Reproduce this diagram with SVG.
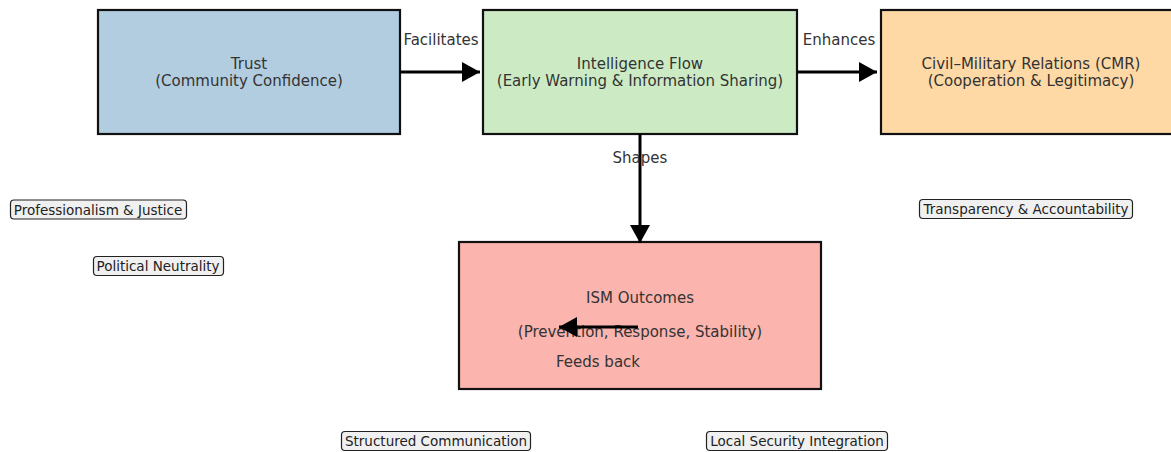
<svg xmlns="http://www.w3.org/2000/svg" width="1171" height="452" viewBox="0 0 1171 452">
<style>
.box{stroke:#111;stroke-width:2.2}
.t{font-family:"DejaVu Sans",sans-serif;font-size:15px;fill:#333;text-anchor:middle}
.lbl{font-family:"DejaVu Sans",sans-serif;font-size:15px;fill:#333;text-anchor:middle}
.tag rect{fill:#f0f0f0;stroke:#222;stroke-width:1.2}
.tag text{font-family:"DejaVu Sans",sans-serif;font-size:13.5px;fill:#222;text-anchor:middle}
.c{stroke:#000;stroke-width:3;fill:none}
</style>
<defs>
<marker id="ah" viewBox="0 0 18 20" refX="18" refY="10" markerWidth="18" markerHeight="20" markerUnits="userSpaceOnUse" orient="auto">
<path d="M0,0 L18,10 L0,20 Z" fill="#000"/>
</marker>
</defs>
<rect width="1171" height="452" fill="#fff"/>
<g id="trust">
<rect class="box" x="98" y="10" width="302" height="124" fill="#b3cde0"/>
<text class="t" x="249" y="69">Trust</text>
<text class="t" x="249" y="86">(Community Confidence)</text>
</g>
<g id="intel">
<rect class="box" x="483" y="10" width="314" height="124" fill="#ccebc5"/>
<text class="t" x="640" y="69">Intelligence Flow</text>
<text class="t" x="640" y="86">(Early Warning &amp; Information Sharing)</text>
</g>
<g id="cmr">
<rect class="box" x="881" y="10" width="300" height="124" fill="#fed9a6"/>
<text class="t" x="1031" y="69">Civil–Military Relations (CMR)</text>
<text class="t" x="1031" y="86">(Cooperation &amp; Legitimacy)</text>
</g>
<g id="ism">
<rect class="box" x="459" y="242" width="362" height="147" fill="#fbb4ae"/>
<text class="t" x="640" y="303">ISM Outcomes</text>
<text class="t" x="640" y="337">(Prevention, Response, Stability)</text>
</g>
<g id="connectors">
<line class="c" x1="400" y1="72" x2="480" y2="72" marker-end="url(#ah)"/>
<text class="lbl" x="441" y="45">Facilitates</text>
<line class="c" x1="797" y1="72" x2="877" y2="72" marker-end="url(#ah)"/>
<text class="lbl" x="839" y="45">Enhances</text>
<line class="c" x1="640" y1="134" x2="640" y2="243" marker-end="url(#ah)"/>
<text class="lbl" x="640" y="163">Shapes</text>
<line class="c" x1="638" y1="327" x2="559" y2="327" marker-end="url(#ah)"/>
<text class="lbl" x="598" y="367">Feeds back</text>
</g>
<g id="tag-prof" class="tag">
<rect x="10.5" y="200" width="176" height="19" rx="3.5"/>
<text x="98" y="214.5">Professionalism &amp; Justice</text>
</g>
<g id="tag-neutral" class="tag">
<rect x="93.5" y="256.5" width="130" height="19" rx="3.5"/>
<text x="158" y="271">Political Neutrality</text>
</g>
<g id="tag-transp" class="tag">
<rect x="919.5" y="199.5" width="213" height="19" rx="3.5"/>
<text x="1026" y="214">Transparency &amp; Accountability</text>
</g>
<g id="tag-struct" class="tag">
<rect x="341.5" y="431.5" width="189" height="19" rx="3.5"/>
<text x="436" y="446">Structured Communication</text>
</g>
<g id="tag-local" class="tag">
<rect x="706.5" y="431.5" width="181" height="19" rx="3.5"/>
<text x="797" y="446">Local Security Integration</text>
</g>
</svg>
